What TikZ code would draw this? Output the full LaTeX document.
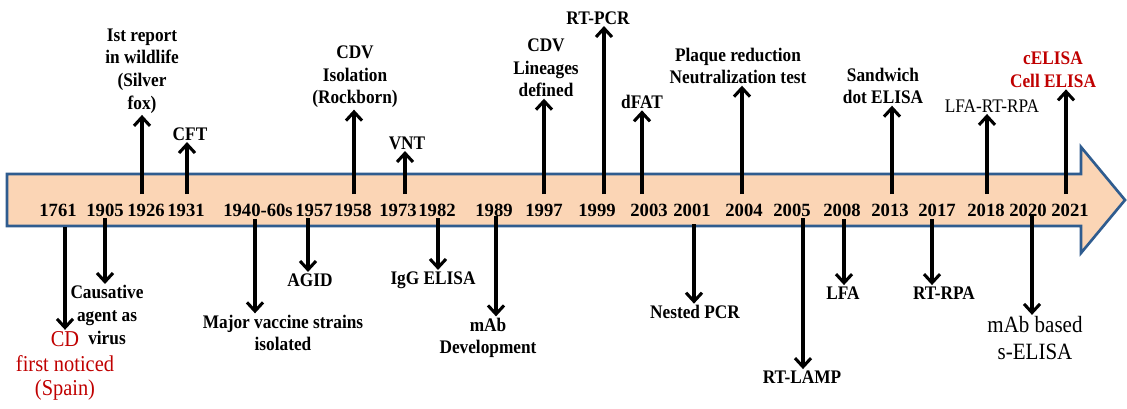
\documentclass[tikz,border=0pt]{standalone}
\usepackage{fontspec}
\setmainfont{Liberation Serif}
\newfontfamily\lblfont[FakeStretch=0.9]{Liberation Serif}
\usetikzlibrary{arrows.meta}
\definecolor{barfill}{HTML}{FBD5B5}
\definecolor{barline}{HTML}{2F5C8F}
\definecolor{darkred}{HTML}{C00000}
\begin{document}
\begin{tikzpicture}[x=0.75pt,y=-0.75pt,
  yr/.style={font=\fontsize{14}{16}\selectfont\bfseries, inner sep=0pt},
  lbl/.style={font=\lblfont\fontsize{14.4}{17}\selectfont\bfseries, align=center, inner sep=1pt},
  lblreg/.style={font=\lblfont\fontsize{14.4}{17}\selectfont, align=center, inner sep=1pt},
  redlbl/.style={font=\lblfont\fontsize{14.4}{17}\selectfont\bfseries, align=center, inner sep=1pt, text=darkred},
  redbig/.style={font=\lblfont\fontsize{17}{18.5}\selectfont, align=center, inner sep=1pt, text=darkred},
  biglbl/.style={font=\lblfont\fontsize{17.5}{20}\selectfont, align=center, inner sep=1pt},
  arr/.style={line width=2.4pt, -{Straight Barb[length=6.5pt,width=12pt,line width=2.3pt]}},
  bar/.style={fill=barfill, draw=barline, line width=2pt, line join=miter}
]
\useasboundingbox (0,0) rectangle (1127,408);

% timeline arrow
\draw[bar] (7,174) -- (1081,174) -- (1081,147) -- (1125,200) -- (1081,253) -- (1081,226) -- (7,226) -- cycle;

% years
\node[yr] (y1761) at (58,210) {1761};
\node[yr] (y1905) at (105,210) {1905};
\node[yr] (y1926) at (146,210) {1926};
\node[yr] (y1931) at (186,210) {1931};
\node[yr] (y1940) at (258,210) {1940-60s};
\node[yr] (y1957) at (314,210) {1957};
\node[yr] (y1958) at (353,210) {1958};
\node[yr] (y1973) at (398,210) {1973};
\node[yr] (y1982) at (437,210) {1982};
\node[yr] (y1989) at (494,210) {1989};
\node[yr] (y1997) at (544,210) {1997};
\node[yr] (y1999) at (597,210) {1999};
\node[yr] (y2003) at (649,210) {2003};
\node[yr] (y2001) at (692,210) {2001};
\node[yr] (y2004) at (744,210) {2004};
\node[yr] (y2005) at (792,210) {2005};
\node[yr] (y2008) at (842,210) {2008};
\node[yr] (y2013) at (890,210) {2013};
\node[yr] (y2017) at (937,210) {2017};
\node[yr] (y2018) at (986,210) {2018};
\node[yr] (y2020) at (1028,210) {2020};
\node[yr] (y2021) at (1070,210) {2021};

% labels above
\node[lbl] (l1926) at (142,71) {Ist report\\in wildlife\\(Silver\\fox)};
\node[lbl] (l1931) at (190,134) {CFT};
\node[lbl] (l1958) at (355,77) {CDV\\Isolation\\(Rockborn)};
\node[lbl] (l1973) at (407,143) {VNT};
\node[lbl] (l1997) at (546,68) {CDV\\Lineages\\defined};
\node[lbl] (l1999) at (598,18) {RT-PCR};
\node[lbl] (l2003) at (642,102) {dFAT};
\node[lbl] (l2004) at (738,66) {Plaque reduction\\Neutralization test};
\node[lbl] (l2013) at (883,86) {Sandwich\\dot ELISA};
\node[lblreg] (l2018) at (992,106) {LFA-RT-RPA};
\node[redlbl] (l2021) at (1053,70) {cELISA\\Cell ELISA};

% labels below
\node[redbig] (l1761) at (65,366) {CD\\first noticed\\(Spain)};
\node[lbl] (l1905) at (107,315) {Causative\\agent as\\virus};
\node[lbl] (l1940) at (283,333) {Major vaccine strains\\isolated};
\node[lbl] (l1957) at (310,280) {AGID};
\node[lbl] (l1982) at (433,280) {IgG ELISA};
\node[lbl] (l1989) at (488,338) {mAb\\Development};
\node[lbl] (l2001) at (695,312) {Nested PCR};
\node[lbl] (l2005) at (802,377) {RT-LAMP};
\node[lbl] (l2008) at (843,293) {LFA};
\node[lbl] (l2017) at (944,293) {RT-RPA};
\node[biglbl] (l2020) at (1035,338) {mAb based\\s-ELISA};

% arrow feet
\coordinate (a1926) at (142,194);
\coordinate (a1931) at (187,194);
\coordinate (a1958) at (354,194);
\coordinate (a1973) at (405,194);
\coordinate (a1997) at (544,194);
\coordinate (a1999) at (604,194);
\coordinate (a2003) at (642,194);
\coordinate (a2004) at (742,194);
\coordinate (a2013) at (892,194);
\coordinate (a2018) at (987,194);
\coordinate (a2021) at (1066,194);

\coordinate (a1761) at (65,227);
\coordinate (a1905) at (105,218);
\coordinate (a1940) at (255,219);
\coordinate (a1957) at (308,218);
\coordinate (a1982) at (438,218);
\coordinate (a1989) at (496,216);
\coordinate (a2001) at (694,224);
\coordinate (a2005) at (803,218);
\coordinate (a2008) at (844,219);
\coordinate (a2017) at (932,219);
\coordinate (a2020) at (1032,216);

% up arrows
\foreach \k in {1926,1931,1958,1973,1997,1999,2003,2004,2013,2018,2021}
  \draw[arr] (a\k) -- (a\k |- l\k.south);
% down arrows
\foreach \k in {1761,1905,1940,1957,1982,1989,2001,2005,2008,2017,2020}
  \draw[arr] (a\k) -- (a\k |- l\k.north);
\end{tikzpicture}
\end{document}
